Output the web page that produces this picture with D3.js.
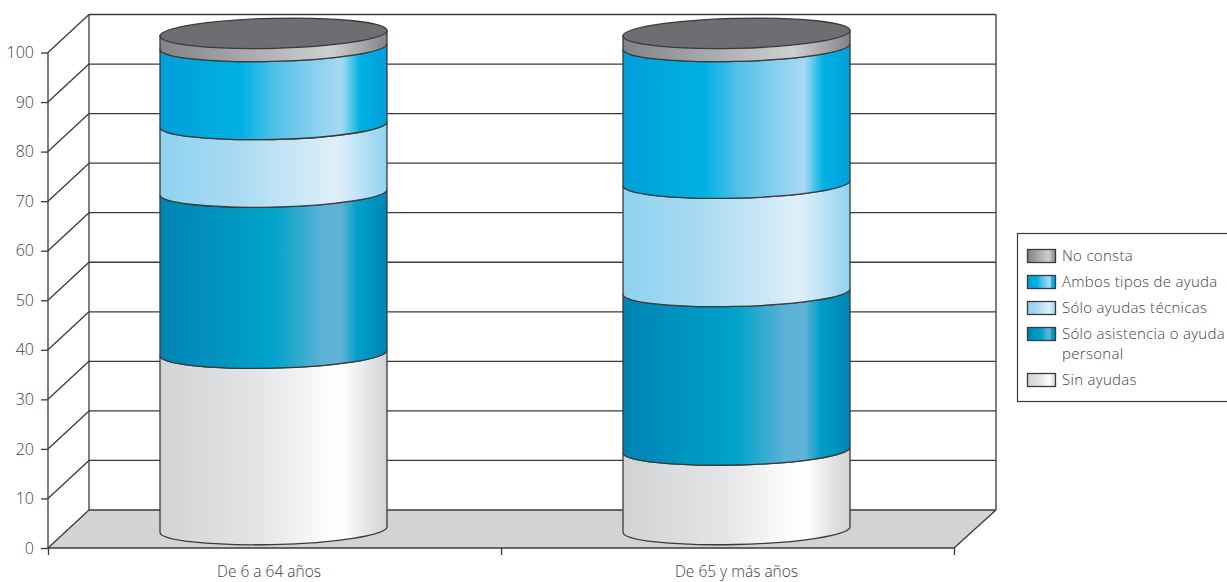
<!DOCTYPE html>
<html><head><meta charset="utf-8">
<script src="https://cdn.jsdelivr.net/npm/d3@7"></script>
<style>html,body{margin:0;padding:0;background:#fff}svg{display:block}
text{font-family:"Open Sans",sans-serif;font-weight:300;fill:#414143}</style></head>
<body><svg id="c" width="1227" height="582"></svg>
<script>
const categories = ["De 6 a 64 años", "De 65 y más años"];
const seriesNames = ["Sin ayudas", "Sólo asistencia o ayuda personal", "Sólo ayudas técnicas", "Ambos tipos de ayuda", "No consta"];
const sinAyudas = [35.5, 16.0];
const soloAsistencia = [32.4, 31.9];
const soloTecnicas = [13.6, 21.8];
const ambosTipos = [15.7, 27.5];
const noConsta = [2.8, 2.8];
const yTicks = [0,10,20,30,40,50,60,70,80,90,100];
const seriesValues = [sinAyudas, soloAsistencia, soloTecnicas, ambosTipos, noConsta];

const ink = "#3a3a3c";
const gradients = [
  [[0,"#d1d3d4"],[.45,"#e4e5e6"],[.72,"#fbfbfb"],[.8,"#fff"],[.93,"#e0e1e2"],[1,"#d1d3d4"]],
  [[0,"#0083b3"],[.2,"#0090bd"],[.5,"#00a3ca"],[.72,"#5db2d6"],[.8,"#60b2d6"],[.87,"#00a0c8"],[1,"#0085b5"]],
  [[0,"#8dd2ef"],[.35,"#aadbf2"],[.6,"#c8e6f6"],[.78,"#dfeff9"],[.88,"#bfe2f5"],[1,"#8dd2ef"]],
  [[0,"#009fd9"],[.36,"#00b1e4"],[.5,"#4fc0e9"],[.7,"#8fd2ef"],[.8,"#a8d9f1"],[.88,"#00b2e4"],[1,"#009fd9"]],
  [[0,"#808285"],[.3,"#a0a2a5"],[.75,"#cdcfd0"],[.88,"#a8aaad"],[1,"#808285"]]
];

const svg = d3.select("#c");
const defs = svg.append("defs");
gradients.forEach((g,i)=>{
  const lg = defs.append("linearGradient").attr("id","g"+i);
  lg.selectAll("stop").data(g).join("stop").attr("offset",d=>d[0]).attr("stop-color",d=>d[1]);
});

// frame
const X0=48, X1=954, DX=41, DY=38;
const y = d3.scaleLinear().domain([0,100]).range([548,52.5]);
const cy = d3.scaleLinear().domain([0,100]).range([529.5,32.5]);
const xAxisScale = d3.scaleLinear().domain([0,2]).range([X0,X1]);
const xCat = d3.scalePoint().domain(categories).range([273.5,736.5]);
const colW = 227, rx = 113.5, ry = 15, tilt = 2.6, rot = -1.4;

svg.append("polygon").attr("fill","#d1d3d4")
  .attr("points",[[X0,y(0)],[X0+DX,y(0)-DY],[X1+42,y(0)-DY],[X1,y(0)]].join(" "));

const grid = svg.append("g").attr("stroke",ink).attr("stroke-width",1.3).attr("fill","none");
grid.selectAll("line.h").data(yTicks).join("line").attr("class","h")
  .attr("x1",X0+DX).attr("x2",X1+42).attr("y1",d=>y(d)-DY).attr("y2",d=>y(d)-DY);
grid.selectAll("line.d").data(yTicks).join("line").attr("class","d")
  .attr("x1",X0).attr("x2",X0+DX).attr("y1",d=>y(d)).attr("y2",d=>y(d)-DY);
grid.append("line").attr("x1",X0+DX).attr("x2",X0+DX).attr("y1",y(100)-DY).attr("y2",y(0)-DY);
grid.append("line").attr("x1",X1+42).attr("x2",X1+42).attr("y1",y(100)-DY).attr("y2",y(0)-DY);
grid.append("line").attr("x1",X1).attr("x2",X1+42).attr("y1",y(0)).attr("y2",y(0)-DY);

// axes
const yAxis = d3.axisLeft(y).tickValues(yTicks).tickSize(7).tickPadding(7);
const gy = svg.append("g").attr("transform",`translate(${X0},0)`).call(yAxis);
gy.selectAll("path,line").attr("stroke",ink).attr("stroke-width",1.3);
gy.selectAll("text").attr("font-size",16).style("fill","#414143");
gy.select("path").attr("d",`M0,${y(100)}V${y(0)}`);

const xAxis = d3.axisBottom(xAxisScale).tickValues([0,1,2]).tickSize(7).tickFormat("");
const gx = svg.append("g").attr("transform",`translate(0,${y(0)})`).call(xAxis);
gx.selectAll("path,line").attr("stroke",ink).attr("stroke-width",1.3);
gx.select("path").attr("d",`M${X0},0H${X1}`);

// cylinders
categories.forEach((cat,ci)=>{
  const cx = xCat(cat), l = cx-colW/2, r = cx+colW/2;
  const g = svg.append("g").attr("stroke",ink).attr("stroke-width",1.3);
  const bands = d3.cumsum(seriesValues.map(s=>s[ci]));
  bands.forEach((top,si)=>{
    const bot = top - seriesValues[si][ci];
    const yt = cy(top), yb = cy(bot);
    const d = `M${l},${yt+tilt}L${l},${yb+tilt}`+
      `A${rx},${ry} ${rot} 0 0 ${r},${yb-tilt}`+
      `L${r},${yt-tilt}`+
      `A${rx},${ry} ${rot} 0 1 ${l},${yt+tilt}Z`;
    g.append("path").attr("d",d).attr("fill",`url(#g${si})`);
  });
  g.append("ellipse").attr("rx",rx).attr("ry",ry)
    .attr("transform",`translate(${cx},${cy(100)+0.8}) rotate(${rot})`)
    .attr("fill","#6d6e71");
});

svg.append("g").selectAll("text").data(categories).join("text")
  .attr("x",(d,i)=>[269,736.5][i]).attr("y",577).attr("text-anchor","middle")
  .attr("font-size",15.5).text(d=>d);

// legend
svg.append("rect").attr("x",1017.5).attr("y",233.5).attr("width",220).attr("height",168)
  .attr("fill","#fff").attr("stroke",ink).attr("stroke-width",1.2);
const legendRows = [
  {si:4, lines:["No consta"], y:256},
  {si:3, lines:["Ambos tipos de ayuda"], y:282},
  {si:2, lines:["Sólo ayudas técnicas"], y:308},
  {si:1, lines:["Sólo asistencia o ayuda","personal"], y:334},
  {si:0, lines:["Sin ayudas"], y:380}
];
const lg = svg.append("g").selectAll("g").data(legendRows).join("g");
lg.append("rect").attr("x",1027.5).attr("y",d=>d.y-6.5).attr("width",28).attr("height",13)
  .attr("fill",d=>`url(#g${d.si})`).attr("stroke",ink).attr("stroke-width",1.3);
lg.each(function(d){
  d3.select(this).selectAll("text").data(d.lines).join("text")
    .attr("x",1062).attr("y",(t,i)=>d.y+4.5+i*20.5).attr("font-size",15).attr("letter-spacing",.3).text(t=>t);
});
</script></body></html>
